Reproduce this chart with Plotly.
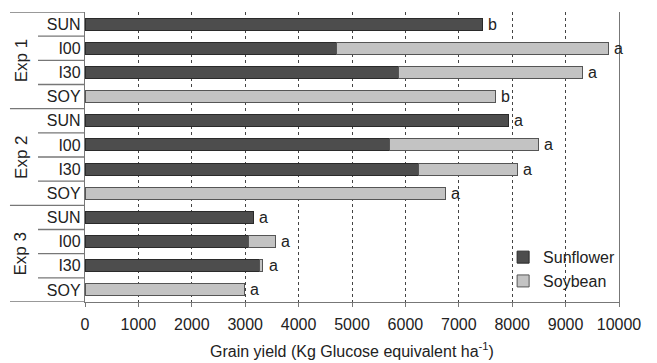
import plotly.graph_objects as go

experiments = ["Exp 1", "Exp 2", "Exp 3"]
treatments = ["SUN", "I00", "I30", "SOY"]
sunflower = [7440, 4715, 5870, None, 7930, 5700, 6240, None, 3150, 3065, 3265, None]
soybean = [None, 5085, 3440, 7680, None, 2790, 1855, 6750, None, 500, 65, 2980]
letters = ["b", "a", "a", "b", "a", "a", "a", "a", "a", "a", "a", "a"]
x_ticks = [0, 1000, 2000, 3000, 4000, 5000, 6000, 7000, 8000, 9000, 10000]
x_title = "Grain yield (Kg Glucose equivalent ha<sup>-1</sup>)"

FONT = "Liberation Sans, Arial, sans-serif"
TXT = "#222222"
n_t = len(treatments)
rows = list(range(len(experiments) * n_t))
row_labels = [t for _ in experiments for t in treatments]

fig = go.Figure()
fig.add_trace(go.Bar(
    y=rows, x=sunflower, orientation="h", name="Sunflower", width=0.5,
    marker=dict(color="#4d4d4d", line=dict(color="#2a2a2a", width=1)),
))
fig.add_trace(go.Bar(
    y=rows, x=soybean, orientation="h", name="Soybean", width=0.5,
    marker=dict(color="#c3c3c3", line=dict(color="#555555", width=1)),
))

annotations = []
for i, lab in enumerate(letters):
    total = (sunflower[i] or 0) + (soybean[i] or 0)
    annotations.append(dict(x=total, y=rows[i], xref="x", yref="y", text=lab,
                            showarrow=False, xanchor="left", xshift=4,
                            font=dict(family=FONT, size=16, color=TXT)))

shapes = []
x_far = -0.1405
x_near = -0.088
for g, exp in enumerate(experiments):
    start = g * n_t
    annotations.append(dict(x=-0.12, y=start + (n_t - 1) / 2, xref="paper", yref="y",
                            text=exp, textangle=-90, showarrow=False,
                            xanchor="center", yanchor="middle",
                            font=dict(family=FONT, size=17, color=TXT)))
    shapes.append(dict(type="line", xref="paper", yref="y", x0=x_far, x1=0,
                       y0=start - 0.5, y1=start - 0.5, line=dict(color="#777777", width=1.3)))
    for k in range(1, n_t):
        shapes.append(dict(type="line", xref="paper", yref="y", x0=x_near, x1=0,
                           y0=start + k - 0.5, y1=start + k - 0.5,
                           line=dict(color="#777777", width=1.3)))
last = len(rows) - 0.5
shapes.append(dict(type="line", xref="paper", yref="y", x0=x_far, x1=0,
                   y0=last, y1=last, line=dict(color="#777777", width=1.3)))

annotations.append(dict(x=0.5, y=-0.165, xref="paper", yref="paper", text=x_title,
                        showarrow=False, xanchor="center", yanchor="middle",
                        font=dict(family=FONT, size=16, color=TXT)))

fig.update_layout(
    width=657, height=363,
    margin=dict(l=85, r=38, t=12, b=61),
    barmode="stack",
    plot_bgcolor="white", paper_bgcolor="white",
    font=dict(family=FONT, size=16, color=TXT),
    bargap=0.5,
    showlegend=True,
    legend=dict(x=0.783, y=0.213, xanchor="left", yanchor="top",
                traceorder="normal",
                bgcolor="rgba(0,0,0,0)", font=dict(family=FONT, size=16, color=TXT),
                tracegroupgap=0),
    annotations=annotations,
    shapes=shapes,
)
fig.update_xaxes(
    range=[0, 10000], tickvals=x_ticks, ticktext=[str(v) for v in x_ticks],
    showgrid=True, gridcolor="#444444", griddash="3px,3px", gridwidth=1,
    zeroline=False, showline=True, linecolor="#777777", linewidth=1.3,
    ticks="outside", ticklen=4, tickcolor="#777777",
    ticklabelstandoff=4, automargin=False,
    tickfont=dict(family=FONT, size=16, color=TXT),
)
fig.update_yaxes(
    range=[len(rows) - 0.5, -0.5], tickvals=rows, ticktext=row_labels,
    showgrid=False, zeroline=False, showline=True, mirror=True,
    linecolor="#777777", linewidth=1.3, ticks="", automargin=False,
    tickfont=dict(family=FONT, size=16, color=TXT),
)

fig.write_html("out.html")
